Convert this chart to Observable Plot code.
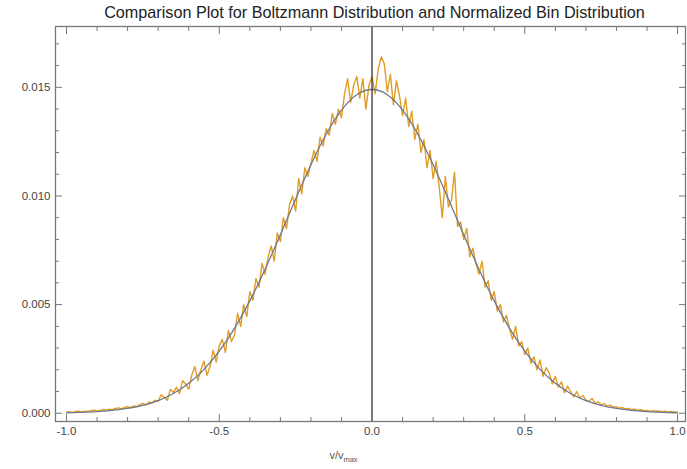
<!DOCTYPE html>
<html><head><meta charset="utf-8">
<script src="https://cdn.jsdelivr.net/npm/d3@7"></script>
<script src="https://cdn.jsdelivr.net/npm/@observablehq/plot@0.6"></script>
<style>
body{margin:0;background:#fff;font-family:"Liberation Sans",Arial,sans-serif;}
#wrap{width:687px;height:469px;position:relative;overflow:hidden;background:#fff}
#title{height:24px;line-height:25px;text-align:center;font-size:16.2px;color:#222;white-space:nowrap;padding-left:62px;box-sizing:border-box}
#chart svg{display:block}
#xlabel{height:25px;text-align:center;font-size:11px;color:#555;line-height:22px;}
#xlabel sub{font-size:7.5px}
</style></head><body>
<div id="wrap">
<div id="title">Comparison Plot for Boltzmann Distribution and Normalized Bin Distribution</div>
<div id="chart"></div>
<div id="xlabel">v/v<sub>max</sub></div>
</div>
<script>
// Normalized bin distribution (orange), bins from -1.00 to 1.00 in steps of 0.01
const binStart = -1, binStep = 0.01;
const binValues = [
0.00005,0.00007,0.00004,0.00008,0.00009,0.00006,0.00010,0.00008,0.00012,0.00014,
0.00011,0.00013,0.00017,0.00015,0.00019,0.00016,0.00022,0.00025,0.00020,0.00027,
0.00030,0.00026,0.00034,0.00031,0.00040,0.00045,0.00038,0.00052,0.00047,0.00060,
0.00055,0.00085,0.00072,0.00060,0.00110,0.00095,0.00120,0.00090,0.00150,0.00135,
0.00110,0.00175,0.00215,0.00150,0.00200,0.00240,0.00175,0.00215,0.00290,0.00235,
0.00310,0.00340,0.00280,0.00380,0.00330,0.00360,0.00460,0.00400,0.00500,0.00445,
0.00560,0.00520,0.00620,0.00580,0.00690,0.00640,0.00720,0.00770,0.00700,0.00830,
0.00790,0.00900,0.00850,0.00960,0.01000,0.00930,0.01080,0.01010,0.01130,0.01090,
0.01150,0.01210,0.01160,0.01270,0.01230,0.01310,0.01280,0.01380,0.01330,0.01400,
0.01360,0.01470,0.01540,0.01430,0.01510,0.01550,0.01450,0.01540,0.01400,0.01510,
0.01550,0.01470,0.01580,0.01640,0.01610,0.01480,0.01560,0.01420,0.01530,0.01460,
0.01370,0.01450,0.01320,0.01390,0.01260,0.01330,0.01200,0.01260,0.01130,0.01210,
0.01080,0.01160,0.01040,0.00900,0.01090,0.00950,0.00980,0.01110,0.00860,0.00880,
0.00800,0.00850,0.00720,0.00760,0.00690,0.00640,0.00700,0.00580,0.00610,0.00520,
0.00560,0.00470,0.00500,0.00420,0.00450,0.00390,0.00340,0.00400,0.00310,0.00330,
0.00270,0.00300,0.00230,0.00260,0.00200,0.00245,0.00170,0.00210,0.00185,0.00135,
0.00170,0.00120,0.00145,0.00095,0.00125,0.00100,0.00075,0.00100,0.00070,0.00082,
0.00060,0.00055,0.00068,0.00045,0.00052,0.00040,0.00044,0.00033,0.00037,0.00028,
0.00030,0.00024,0.00026,0.00020,0.00022,0.00017,0.00019,0.00014,0.00016,0.00012,
0.00013,0.00010,0.00012,0.00009,0.00010,0.00007,0.00009,0.00006,0.00008,0.00005,
0.00006
];
// Boltzmann distribution curve, sampled from -1.00 to 1.00 in steps of 0.05
const curveStart = -1, curveStep = 0.05;
const curveValues = [
0.00002,0.00004,0.00007,0.00013,0.00022,0.00036,0.00058,0.00091,0.00138,0.00202,
0.00286,0.00391,0.00517,0.00663,0.00822,0.00986,0.01144,0.01284,0.01395,0.01466,
0.01490,
0.01466,0.01395,0.01284,0.01144,0.00986,0.00822,0.00663,0.00517,0.00391,0.00286,
0.00202,0.00138,0.00091,0.00058,0.00036,0.00022,0.00013,0.00007,0.00004,0.00002
];
const xMajorTicks = [-1, -0.5, 0, 0.5, 1];
const xMinorTicks = [-0.9,-0.8,-0.7,-0.6,-0.4,-0.3,-0.2,-0.1,0.1,0.2,0.3,0.4,0.6,0.7,0.8,0.9];
const yMajorTicks = [0, 0.005, 0.010, 0.015];
const yMinorTicks = [0.001,0.002,0.003,0.004,0.006,0.007,0.008,0.009,0.011,0.012,0.013,0.014,0.016,0.017];

const bins = binValues.map((v, i) => ({x: +(binStart + i * binStep).toFixed(2), y: v}));
const curve = curveValues.map((v, i) => ({x: +(curveStart + i * curveStep).toFixed(2), y: v}));

const frameColor = "#777";
const labelColor = "#444";
const chart = Plot.plot({
  width: 687, height: 420,
  marginLeft: 55, marginRight: 2, marginTop: 2, marginBottom: 23,
  x: {domain: [-1.036, 1.026]},
  y: {domain: [-0.00038, 0.0178]},
  style: {fontFamily: "'Liberation Sans', Arial, sans-serif", fontSize: "11.5px", background: "#fff"},
  marks: [
    Plot.line(bins, {x: "x", y: "y", stroke: "#E19C24", strokeWidth: 1.4}),
    Plot.line(curve, {x: "x", y: "y", stroke: "#6e7890", strokeWidth: 1.3, curve: "natural"}),
    Plot.ruleX([0], {stroke: "#222", strokeWidth: 1.2}),
    Plot.frame({stroke: frameColor, strokeWidth: 1.3}),
    Plot.axisX(xMajorTicks, {anchor: "bottom", tickSize: -7, tickPadding: 12, tickFormat: d => d.toFixed(1), stroke: frameColor, fill: labelColor, label: null}),
    Plot.axisX(xMinorTicks, {anchor: "bottom", tickSize: -4, tickFormat: () => "", stroke: frameColor, label: null}),
    Plot.axisX(xMajorTicks, {anchor: "top", tickSize: -7, tickFormat: () => "", stroke: frameColor, label: null}),
    Plot.axisX(xMinorTicks, {anchor: "top", tickSize: -4, tickFormat: () => "", stroke: frameColor, label: null}),
    Plot.axisY(yMajorTicks, {anchor: "left", tickSize: -7, tickPadding: 12, tickFormat: d => d.toFixed(3), stroke: frameColor, fill: labelColor, label: null}),
    Plot.axisY(yMinorTicks, {anchor: "left", tickSize: -4, tickFormat: () => "", stroke: frameColor, label: null}),
    Plot.axisY(yMajorTicks, {anchor: "right", tickSize: -7, tickFormat: () => "", stroke: frameColor, label: null}),
    Plot.axisY(yMinorTicks, {anchor: "right", tickSize: -4, tickFormat: () => "", stroke: frameColor, label: null})
  ]
});
document.getElementById("chart").appendChild(chart);
</script>
</body></html>
